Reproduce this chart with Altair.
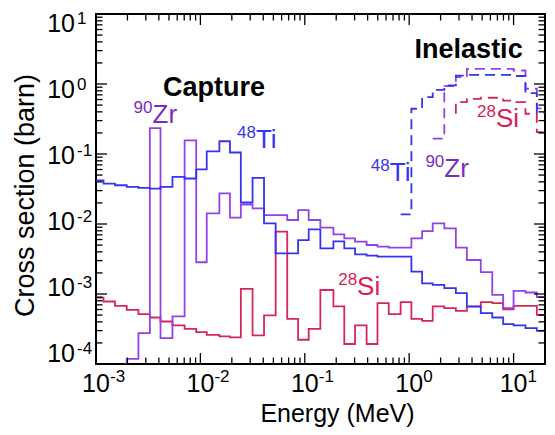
import altair as alt
import pandas as pd

FONT = "Liberation Sans"
W, H = 449, 350

# group boundaries (MeV)
edges = [1.0e-3, 1.18e-3, 1.52e-3, 1.97e-3, 2.55e-3, 3.28e-3, 4.15e-3, 5.40e-3, 7.06e-3, 9.12e-3,
         1.15e-2, 1.52e-2, 1.92e-2, 2.44e-2, 3.16e-2, 4.07e-2, 5.26e-2, 6.79e-2, 8.63e-2, 0.109,
         0.141, 0.188, 0.239, 0.303, 0.391, 0.497, 0.637, 0.828, 1.05, 1.33,
         1.68, 2.17, 2.80, 3.57, 4.85, 6.25, 7.95, 10.0, 13.0, 16.7, 20.0]

# capture cross sections (barn), one value per group
ti_capture = [0.042, 0.0378, 0.0358, 0.034, 0.0329, 0.0321, 0.034, 0.0472, 0.0447, 0.0605,
              0.109, 0.152, 0.105, 0.0203, 0.0456, 0.0102, 0.0038, 0.0038, 5.9e-3, 8.4e-3,
              4.49e-3, 5.65e-3, 4.49e-3, 3.69e-3, 3.53e-3, 3.42e-3, 3.42e-3, 3.42e-3, 2.09e-3, 1.42e-3,
              1.35e-3, 1.21e-3, 1.03e-3, 6.59e-4, 5.33e-4, 4.62e-4, 3.71e-4, 3.56e-4, 3.26e-4, 2.98e-4]
zr_capture = [5e-5, 5e-5, 5e-5, 1.18e-4, 2.77e-4, 0.235, 2.34e-4, 4.78e-4, 0.157, 2.84e-3,
              0.01416, 0.0273, 0.0123, 0.019, 0.0167, 0.0134, 0.0134, 0.0114, 0.0158, 0.0114,
              0.00885, 0.00711, 0.00624, 0.0056, 0.00501, 0.00475, 0.00459, 0.00459, 0.00624, 0.00793,
              0.0102, 0.00865, 0.00459, 0.00306, 0.00205, 9.7e-4, 6.28e-4, 1.11e-3, 1.05e-3, 9.0e-4]
si_capture = [8.9e-4, 7.81e-4, 6.77e-4, 5.93e-4, 5.15e-4, 4.62e-4, 4.05e-4, 3.56e-4, 3.18e-4, 2.86e-4,
              2.61e-4, 2.48e-4, 2.4e-4, 1.18e-3, 2.56e-4, 4.94e-4, 7.76e-3, 4.41e-4, 2.22e-4, 3.18e-4,
              1.14e-3, 6.64e-4, 1.93e-4, 3.56e-4, 1.93e-4, 7.39e-4, 5.15e-4, 7.64e-4, 4.41e-4, 4.14e-4,
              6.64e-4, 6.28e-4, 5.74e-4, 6.64e-4, 7.64e-4, 7.39e-4, 6.06e-4, 6.77e-4, 6.77e-4, 5.04e-4]

# inelastic cross sections (barn), starting at a given group boundary
ti_inel_start = 27
ti_inelastic = [0.0137, 0.443, 0.65, 0.826, 0.953, 1.32, 1.35, 1.35, 1.35, 1.35, 1.30, 0.74, 0.39]
zr_inel_start = 30
zr_inelastic = [0.166, 0.933, 1.25, 1.65, 1.65, 1.65, 1.65, 1.56, 0.855, 0.45]
si_inel_start = 32
si_inel_threshold = 0.376
si_inelastic = [0.552, 0.615, 0.636, 0.636, 0.58, 0.552, 0.376, 0.206]

# axis ticks
x_major = [1e-3, 1e-2, 1e-1, 1.0, 10.0]
x_exp = ["-3", "-2", "-1", "0", "1"]
y_major = [1e-4, 1e-3, 1e-2, 1e-1, 1.0, 10.0]
y_exp = ["-4", "-3", "-2", "-1", "0", "1"]
x_minor = [k * 10.0 ** n for n in range(-3, 2) for k in range(2, 10) if k * 10.0 ** n < 20]
y_minor = [k * 10.0 ** n for n in range(-4, 1) for k in range(2, 10)]

# text annotations
ann_main = ["Zr", "Ti", "Ti", "Zr", "Si", "Si"]
ann_sup = ["90", "48", "48", "90", "28", "28"]
ann_energy = [3.48e-3, 3.4e-2, 0.651, 2.17, 6.77, 0.317]
ann_xs = [0.28, 0.123, 0.0405, 0.0477, 0.243, 9.7e-4]
ann_elem = ["Zr", "Ti", "Ti", "Zr", "Si", "Si"]
heading_text = ["Capture", "Inelastic"]
heading_energy = [0.01352, 3.71]
heading_xs = [0.68, 2.34]

LINE_COL = {"Ti": "#3434f2", "Zr": "#9342e6", "Si": "#d52659"}
TEXT_COL = {"Ti": "#3535f5", "Zr": "#7a2cc4", "Si": "#d81f52"}

xs = alt.Scale(type="log", domain=[1e-3, 20], nice=False)
ys = alt.Scale(type="log", domain=[1e-4, 10], nice=False)
ys_lab = alt.Scale(type="log", domain=[10 ** -4.151, 10 ** 1.151], nice=False)

AXX = alt.Axis(labels=False, ticks=False, domain=False, grid=False, title="Energy (MeV)",
               titleFont=FONT, titleFontSize=25, titleFontWeight="normal", titleColor="black",
               titleX=241, titleY=57, titleAlign="center", titleBaseline="alphabetic")
AXY = alt.Axis(labels=False, ticks=False, domain=False, grid=False, title="Cross section (barn)",
               titleFont=FONT, titleFontSize=27, titleFontWeight="normal", titleColor="black",
               titleX=-71, titleY=181, titleAngle=270, titleAlign="center", titleBaseline="middle")


def steps(name, start, values, lead=None):
    rows = []
    if lead is not None:
        rows.append((edges[start], lead))
    for i, v in enumerate(values):
        rows.append((edges[start + i], v))
    rows.append((edges[start + len(values)], values[-1]))
    return pd.DataFrame({"E": [r[0] for r in rows], "xs": [r[1] for r in rows],
                         "idx": list(range(len(rows))), "series": name})


def step_layer(df, color, dash=None):
    kw = dict(interpolate="step-after", clip=True, strokeWidth=1.8, color=color)
    if dash:
        kw["strokeDash"] = dash
    return alt.Chart(df).mark_line(**kw).encode(
        x=alt.X("E:Q", scale=xs, axis=AXX),
        y=alt.Y("xs:Q", scale=ys, axis=AXY),
        order=alt.Order("idx:Q"),
    )


layers = []
layers.append(step_layer(steps("Si", 0, si_capture), LINE_COL["Si"]))
layers.append(step_layer(steps("Zr", 0, zr_capture), LINE_COL["Zr"]))
layers.append(step_layer(steps("Ti", 0, ti_capture), LINE_COL["Ti"]))
layers.append(step_layer(steps("Si", si_inel_start, si_inelastic, si_inel_threshold), LINE_COL["Si"], [10, 6]))
layers.append(step_layer(steps("Zr", zr_inel_start, zr_inelastic), LINE_COL["Zr"], [10, 6]))
layers.append(step_layer(steps("Ti", ti_inel_start, ti_inelastic), LINE_COL["Ti"], [10, 6]))


def xticks(vals, length):
    df = pd.DataFrame({"v": vals})
    out = []
    for y0, y1 in [(H, H - length), (0, length)]:
        out.append(alt.Chart(df).mark_rule(color="black", strokeWidth=1.3).encode(
            x=alt.X("v:Q", scale=xs, axis=AXX), y=alt.value(y0), y2=alt.value(y1)))
    return out


def yticks(vals, length):
    df = pd.DataFrame({"v": vals})
    out = []
    for x0, x1 in [(0, length), (W, W - length)]:
        out.append(alt.Chart(df).mark_rule(color="black", strokeWidth=1.3).encode(
            y=alt.Y("v:Q", scale=ys, axis=AXY), x=alt.value(x0), x2=alt.value(x1)))
    return out


layers += xticks(x_major, 11) + xticks(x_minor, 6.5) + yticks(y_major, 11) + yticks(y_minor, 6.5)

# x tick labels
xl = pd.DataFrame({"v": x_major, "e": x_exp, "b": ["10"] * len(x_major)})
layers.append(alt.Chart(xl).mark_text(align="center", baseline="alphabetic", font=FONT, fontSize=25,
                                      color="black").encode(
    x=alt.X("v:Q", scale=xs, axis=AXX), y=alt.value(H + 28), text="b:N"))
layers.append(alt.Chart(xl).mark_text(align="left", baseline="alphabetic", font=FONT, fontSize=17,
                                      color="black", dx=14).encode(
    x=alt.X("v:Q", scale=xs, axis=AXX), y=alt.value(H + 18), text="e:N"))

# annotations
for t, s, e, v, el in zip(ann_main, ann_sup, ann_energy, ann_xs, ann_elem):
    df = pd.DataFrame({"E": [e], "xs": [v], "t": [t], "s": [s]})
    layers.append(alt.Chart(df).mark_text(align="left", baseline="alphabetic", font=FONT, fontSize=26,
                                          color=TEXT_COL[el]).encode(
        x=alt.X("E:Q", scale=xs, axis=AXX), y=alt.Y("xs:Q", scale=ys, axis=AXY), text="t:N"))
    layers.append(alt.Chart(df).mark_text(align="right", baseline="alphabetic", font=FONT, fontSize=17,
                                          color=TEXT_COL[el], dy=-10).encode(
        x=alt.X("E:Q", scale=xs, axis=AXX), y=alt.Y("xs:Q", scale=ys, axis=AXY), text="s:N"))

hd = pd.DataFrame({"E": heading_energy, "xs": heading_xs, "t": heading_text})
layers.append(alt.Chart(hd).mark_text(align="center", baseline="alphabetic", font=FONT, fontSize=27,
                                      fontWeight="bold", color="black").encode(
    x=alt.X("E:Q", scale=xs, axis=AXX), y=alt.Y("xs:Q", scale=ys, axis=AXY), text="t:N"))

main = alt.layer(*layers)

# y tick labels (own vertical scale to match the reference's label spacing)
yl = pd.DataFrame({"v": y_major, "e": y_exp, "b": ["10"] * len(y_major)})
ylab_base = alt.Chart(yl).mark_text(align="right", baseline="middle", font=FONT, fontSize=25,
                                    color="black").encode(
    x=alt.value(-21), y=alt.Y("v:Q", scale=ys_lab, axis=None), text="b:N")
ylab_exp = alt.Chart(yl).mark_text(align="left", baseline="alphabetic", font=FONT, fontSize=17,
                                   color="black", dy=0).encode(
    x=alt.value(-19), y=alt.Y("v:Q", scale=ys_lab, axis=None), text="e:N")

chart = alt.layer(main, ylab_base, ylab_exp).resolve_scale(y="independent").properties(
    width=W, height=H,
    autosize=alt.AutoSizeParams(type="none"),
    padding={"left": 88, "top": 6, "right": 2, "bottom": 63},
).configure_view(stroke="black", strokeWidth=2)

chart.save("out.html", embed_options={"renderer": "svg", "actions": False})
